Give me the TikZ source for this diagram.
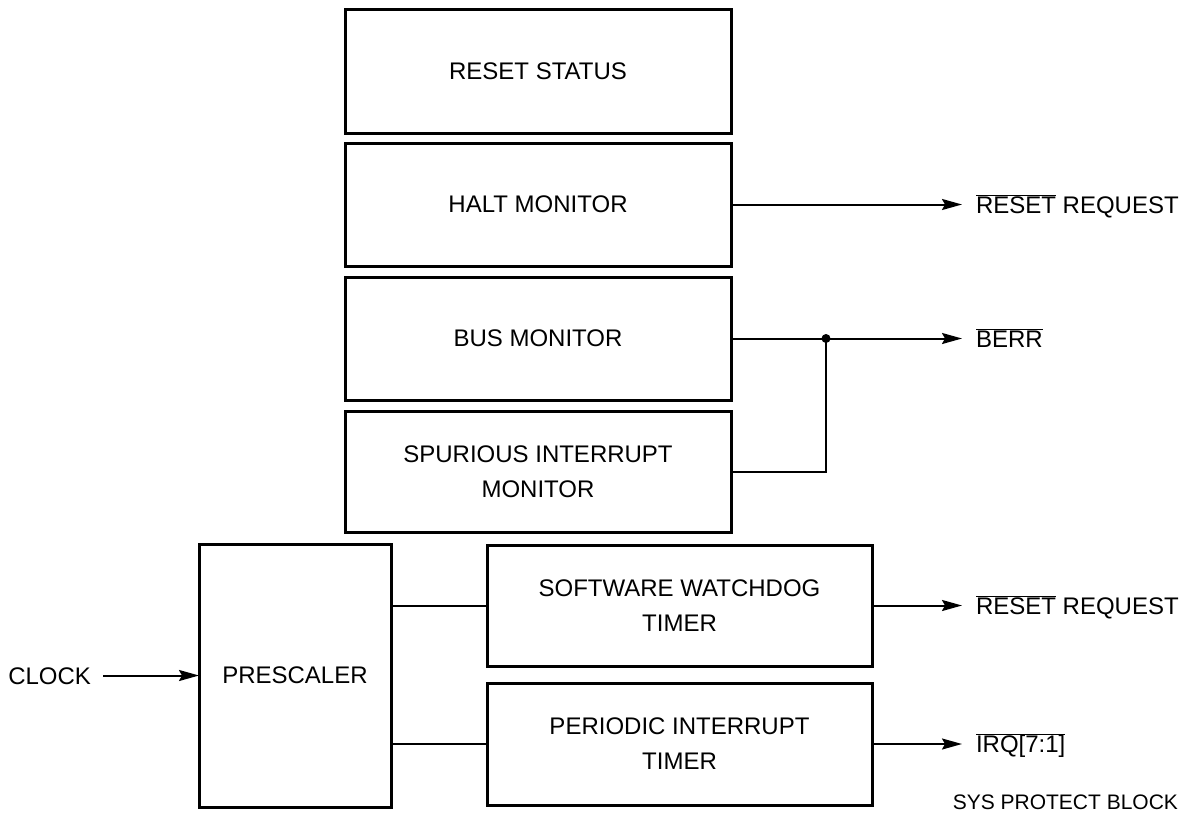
\documentclass[tikz,border=0pt]{standalone}
\usepackage{fontspec}
\setmainfont{Liberation Sans}
\usetikzlibrary{arrows.meta}
\tikzset{
  blk/.style={draw, line width=3pt, rectangle, inner sep=0pt, outer sep=0pt, align=center},
  lbl/.style={inner ysep=0pt, outer sep=0pt},
  wire/.style={line width=2pt},
  arr/.style={line width=2pt, -{Stealth[length=20pt,width=11pt,inset=3pt]}},
  txt/.style={font=\fontsize{24}{35}\selectfont},
  small/.style={font=\fontsize{21}{25}\selectfont}
}
\newcommand{\ovl}[1]{$\overline{\mbox{#1}}$}
\begin{document}
\begin{tikzpicture}[x=1pt,y=-1pt]
\useasboundingbox (0,0) rectangle (1188,816);
% blocks
\node[blk,txt,minimum width=386pt,minimum height=123pt] (rst) at (538,71.5) {RESET STATUS};
\node[blk,txt,minimum width=386pt,minimum height=123pt] (halt) at (538,204.5) {HALT MONITOR};
\node[blk,txt,minimum width=386pt,minimum height=123pt] (bus) at (538,338.5) {BUS MONITOR};
\node[blk,txt,minimum width=386pt,minimum height=121pt] (spur) at (538,471.5) {SPURIOUS INTERRUPT\\MONITOR};
\node[blk,txt,minimum width=192pt,minimum height=263pt] (pre) at (295,675.5) {PRESCALER};
\node[blk,txt,minimum width=385pt,minimum height=121pt] (swt) at (679.5,605.5) {SOFTWARE WATCHDOG\\TIMER};
\node[blk,txt,minimum width=385pt,minimum height=122pt] (pit) at (679.5,744) {PERIODIC INTERRUPT\\TIMER};
% labels
\node[lbl,txt,anchor=base west,inner xsep=14pt] (rr1) at (962,213) {\ovl{RESET} REQUEST};
\node[lbl,txt,anchor=base west,inner xsep=14pt] (berr) at (962,347.5) {\ovl{BERR}};
\node[lbl,txt,anchor=base west,inner xsep=14pt] (rr2) at (962,614) {\ovl{RESET} REQUEST};
\node[lbl,txt,anchor=base west,inner xsep=14pt] (irq) at (962,752.5) {\ovl{IRQ[7:1]}};
\node[lbl,txt,anchor=base east,inner xsep=12pt] (clk) at (103,684.5) {CLOCK};
\node[lbl,small,anchor=base east,inner xsep=0pt] (cap) at (1178,809) {SYS PROTECT BLOCK};
% junction
\coordinate (j) at (826,338.5);
% connectors
\draw[arr] (halt.east) -- (halt.east -| rr1.west);
\draw[arr] (bus.east) -- (bus.east -| berr.west);
\draw[wire] (spur.east) -- (spur.east -| j) -- (j);
\fill (j) circle (4.5pt);
\draw[arr] (swt.east) -- (swt.east -| rr2.west);
\draw[arr] (pit.east) -- (pit.east -| irq.west);
\draw[wire] (pre.east |- swt.west) -- (swt.west);
\draw[wire] (pre.east |- pit.west) -- (pit.west);
\draw[arr] (clk.east |- pre.west) -- (pre.west);
\end{tikzpicture}
\end{document}
